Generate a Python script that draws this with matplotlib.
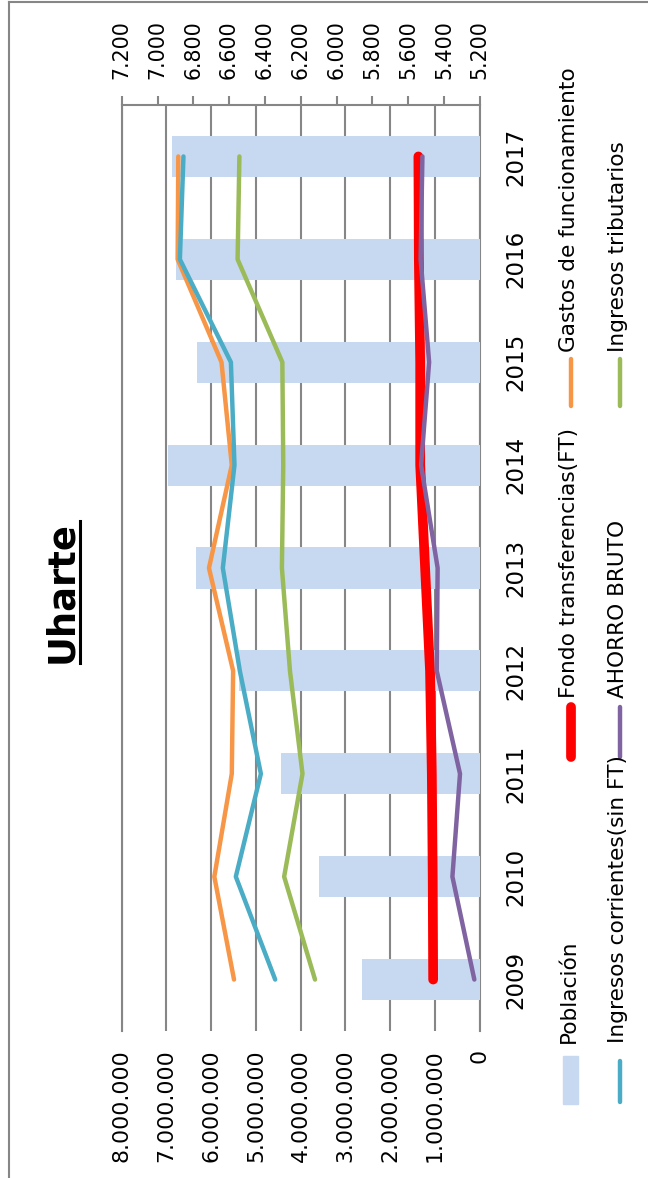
import matplotlib
matplotlib.use("Agg")
import matplotlib.pyplot as plt
from matplotlib.ticker import FuncFormatter
from matplotlib.lines import Line2D
from matplotlib.patches import Rectangle
import numpy as np

plt.rcParams['font.family'] = ['DejaVu Sans']

# ---------------- data ----------------
years = ["2009", "2010", "2011", "2012", "2013", "2014", "2015", "2016", "2017"]
poblacion = [5856, 6096, 6310, 6543, 6783, 6943, 6778, 6897, 6917]
fondo_ft = [1040000, 1050000, 1070000, 1110000, 1220000, 1330000, 1330000, 1360000, 1370000]
gastos_func = [5490000, 5930000, 5540000, 5510000, 6050000, 5540000, 5770000, 6750000, 6735000]
ingresos_corr = [4570000, 5450000, 4890000, 5360000, 5740000, 5480000, 5560000, 6700000, 6620000]
ahorro_bruto = [120000, 610000, 440000, 960000, 940000, 1310000, 1130000, 1320000, 1280000]
ingresos_trib = [3680000, 4370000, 3960000, 4240000, 4420000, 4390000, 4410000, 5410000, 5370000]

money_ticks = list(range(0, 8000001, 1000000))
pop_ticks = list(range(5200, 7201, 200))

C_BAR = "#C6D9F1"
C_RED = "#FF0000"
C_ORANGE = "#F79646"
C_TEAL = "#4BACC6"
C_PURPLE = "#8064A2"
C_GREEN = "#9BBB59"
C_GRID = "#868686"

W, H = 648, 1178
fig = plt.figure(figsize=(W / 100, H / 100), dpi=100)


def fx(px):
    return px / W


def fy(py):
    return 1 - py / H


def dots(v, pos=None):
    return f"{int(round(v)):,}".replace(",", ".")


x0, x1 = 121.7, 479.7
y0, y1 = 105, 1031
rect = [fx(x0), fy(y1), fx(x1) - fx(x0), fy(y0) - fy(y1)]
ypos = np.arange(len(years))

# base axes: money scale (bottom), gridlines, year labels (right)
ax = fig.add_axes(rect)
ax.set_zorder(0)
ax.set_xlim(8000000, 0)
ax.set_ylim(-0.5, len(years) - 0.5)
ax.set_xticks(money_ticks)
ax.xaxis.set_major_formatter(FuncFormatter(dots))
ax.grid(axis='x', color=C_GRID, lw=1.5)
ax.set_axisbelow(True)
ax.tick_params(axis='x', bottom=True, length=0, pad=13, labelsize=15.8,
               labelrotation=90)
for sp in ['bottom', 'top']:
    ax.spines[sp].set_visible(False)
for sp in ['left', 'right']:
    ax.spines[sp].set_color(C_GRID)
    ax.spines[sp].set_linewidth(1.5)
ax.yaxis.tick_right()
ax.set_yticks(ypos)
ax.set_yticklabels(years)
ax.tick_params(axis='y', length=0, pad=17.5, labelsize=16.5, labelrotation=90)
for lab in ax.get_yticklabels():
    lab.set_va('center')
    lab.set_ha('left')

# secondary axes: population (top) bars, drawn above the gridlines
ax2 = ax.twiny()
ax2.set_zorder(1)
ax2.patch.set_visible(False)
ax2.set_xlim(7200, 5200)
ax2.barh(ypos, poblacion, height=0.4, color=C_BAR, zorder=2)
ax2.set_xticks(pop_ticks)
ax2.xaxis.set_major_formatter(FuncFormatter(dots))
ax2.tick_params(axis='x', top=True, direction='out', length=6.5, width=1.5,
                color=C_GRID, pad=12, labelsize=14.8, labelrotation=90)
for sp in ['bottom', 'left', 'right']:
    ax2.spines[sp].set_visible(False)
ax2.spines['top'].set_color(C_GRID)
ax2.spines['top'].set_linewidth(1.5)

# third axes: lines on top of bars
ax3 = fig.add_axes(rect, sharex=ax, sharey=ax)
ax3.set_zorder(2)
ax3.set_axis_off()
series = [
    (fondo_ft, C_RED, 7.0),
    (gastos_func, C_ORANGE, 3.2),
    (ingresos_corr, C_TEAL, 3.2),
    (ahorro_bruto, C_PURPLE, 3.2),
    (ingresos_trib, C_GREEN, 3.2),
]
for vals, col, lw in series:
    ax3.plot(vals, ypos, color=col, lw=lw, solid_capstyle='round',
             solid_joinstyle='round', clip_on=False)

# ---------------- legend (manual, rotated) ----------------
tf = fig.transFigure
fig.add_artist(Rectangle((fx(563), fy(1104)), 15 / W, 48 / H, color=C_BAR,
                         transform=tf))
leg_lines = [
    (619.5, 1102, 1061, C_TEAL, 3.2),
    (571, 757, 707, C_RED, 7.0),
    (619.5, 757, 707, C_PURPLE, 3.2),
    (571, 406, 359, C_ORANGE, 3.2),
    (619.5, 406, 359, C_GREEN, 3.2),
]
for xx, ya, yb, col, lw in leg_lines:
    fig.add_artist(Line2D([fx(xx), fx(xx)], [fy(ya), fy(yb)], color=col, lw=lw,
                          solid_capstyle='round', transform=tf))
LEG_FS = 15.6
leg_texts = [
    (569, 1043, "Población"),
    (618, 1043, "Ingresos corrientes(sin FT)"),
    (569, 698, "Fondo transferencias(FT)"),
    (618, 698, "AHORRO BRUTO"),
    (569, 352, "Gastos de funcionamiento"),
    (618, 352, "Ingresos tributarios"),
]
for xx, yy, s in leg_texts:
    fig.text(fx(xx), fy(yy), s, rotation=90, ha='center', va='bottom',
             fontsize=LEG_FS)

# ---------------- title ----------------
title = fig.text(fx(62), fy(592), "Uharte", rotation=90, ha='center',
                 va='center', fontsize=26.5, fontweight='bold')

# chart border (top and left edges visible)
fig.add_artist(Line2D([fx(9), 1], [fy(2), fy(2)], color=C_GRID, lw=1.5,
                      transform=tf))
fig.add_artist(Line2D([fx(9), fx(9)], [fy(2), 0], color=C_GRID, lw=1.5,
                      transform=tf))

fig.canvas.draw()
bb = title.get_window_extent()
fig.add_artist(Line2D([fx(80), fx(80)], [bb.y0 / H, bb.y1 / H], color='black',
                      lw=2.2, transform=tf))

fig.savefig("out.png", dpi=100)
